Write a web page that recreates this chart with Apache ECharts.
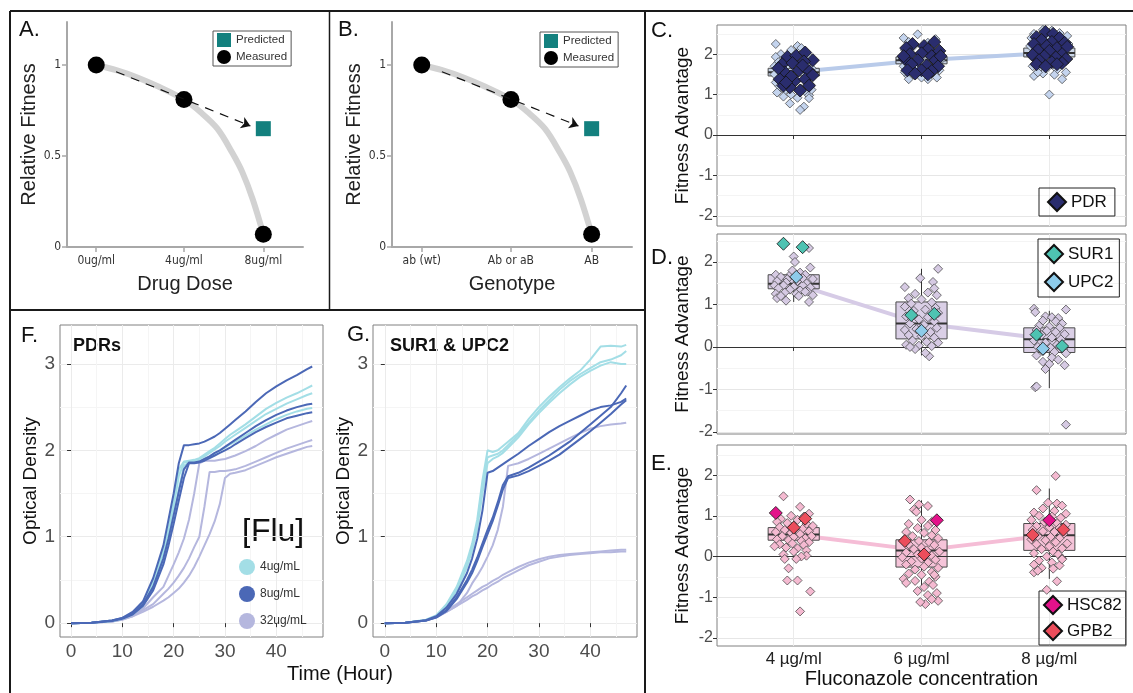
<!DOCTYPE html>
<html>
<head>
<meta charset="utf-8">
<script src="https://cdn.jsdelivr.net/npm/echarts@6/dist/echarts.min.js"></script>
<style>
html, body { margin: 0; padding: 0; background: #fff; }
#main { width: 1133px; height: 693px; }
</style>
</head>
<body>
<div id="main"></div>
<script>
// ---------- panels A / B (schematic) ----------
const doseX = [0, 4.2, 8];
const doseLabels = ['0ug/ml', '4ug/ml', '8ug/ml'];
const genoLabels = ['ab (wt)', 'Ab or aB', 'AB'];
const measured = [1.0, 0.81, 0.07];
const predicted = [[8, 0.65]];
const curveX = [0, 1, 2, 3, 4.2, 5, 5.8, 6.5, 7, 7.5, 8];
const curveY = [1, 0.97, 0.93, 0.88, 0.81, 0.74, 0.65, 0.52, 0.41, 0.26, 0.07];
const arrowAB = [[0.95, 0.963], [7.38, 0.665]];

// ---------- panels C / D / E (jittered fitness) ----------
const concLabels = ['4 µg/ml', '6 µg/ml', '8 µg/ml'];
// [jitter, value] per concentration group
const cLight = [
  [[-0.14,2.25],[0.03,2.2],[0.06,2.15],[-0.02,2.1],[-0.1,2.0],[0.08,2.05],[-0.14,1.93],[-0.06,1.9],[0.12,1.95],[-0.12,1.8],[0.0,1.85],[0.1,1.75],[-0.15,1.7],[-0.05,1.72],[0.14,1.65],[-0.12,1.6],[0.05,1.62],[-0.15,1.5],[0.02,1.5],[0.12,1.45],[-0.1,1.4],[-0.03,1.38],[0.09,1.35],[-0.14,1.3],[0.0,1.28],[0.13,1.25],[-0.11,1.2],[0.06,1.15],[-0.07,1.1],[0.1,1.05],[-0.13,1.05],[-0.02,1.0],[0.12,0.98],[-0.08,0.95],[0.03,0.92],[0.12,0.91],[-0.03,0.78],[0.08,0.7],[0.05,0.62],[0.14,1.12],[-0.06,1.55],[0.09,1.85]],
  [[-0.03,2.49],[-0.14,2.4],[0.11,2.37],[-0.1,2.3],[0.05,2.28],[-0.06,2.2],[0.13,2.15],[-0.13,2.1],[0.0,2.05],[0.1,2.0],[-0.15,1.95],[-0.04,1.92],[0.07,1.9],[0.15,1.85],[-0.12,1.8],[0.02,1.78],[0.12,1.75],[-0.14,1.7],[-0.05,1.68],[0.08,1.65],[-0.1,1.6],[0.03,1.58],[0.14,1.6],[-0.13,1.55],[-0.02,1.52],[0.1,1.5],[-0.1,1.45],[0.05,1.45],[-0.1,1.38],[0.05,1.38],[0.12,1.42],[0.0,1.42],[-0.07,1.5],[0.09,1.55]],
  [[-0.05,2.6],[0.02,2.58],[-0.12,2.5],[0.08,2.52],[0.14,2.45],[-0.14,2.4],[-0.03,2.42],[0.1,2.35],[-0.1,2.3],[0.04,2.3],[0.15,2.25],[-0.15,2.2],[-0.06,2.18],[0.08,2.15],[-0.12,2.05],[0.0,2.08],[0.12,2.02],[-0.14,1.95],[-0.04,1.92],[0.07,1.9],[0.15,1.88],[-0.1,1.8],[0.02,1.78],[0.1,1.75],[-0.13,1.7],[-0.02,1.65],[0.06,1.62],[-0.08,1.58],[-0.12,1.46],[0.04,1.49],[0.1,1.38],[-0.05,1.52],[0.0,1.0],[0.13,1.55],[-0.09,1.55]]
];
const cPDR = [
  [[-0.05,1.93],[0.02,1.96],[0.09,2.04],[0.15,1.85],[-0.09,1.75],[-0.01,1.78],[0.08,1.82],[-0.07,1.55],[0.04,1.6],[0.12,1.58],[-0.11,1.38],[0.01,1.34],[0.09,1.38],[-0.03,1.18],[0.05,1.1],[-0.08,1.22],[0.12,1.22],[-0.12,1.65],[0.07,1.72],[-0.02,1.45],[0.15,1.48],[-0.06,1.3]],
  [[-0.07,2.25],[0.02,2.2],[0.1,2.3],[-0.12,2.15],[0.05,2.12],[0.14,2.08],[-0.09,2.0],[0.0,2.02],[0.08,1.95],[-0.13,1.88],[-0.03,1.85],[0.11,1.85],[-0.08,1.75],[0.04,1.72],[0.13,1.7],[-0.11,1.6],[0.0,1.6],[0.08,1.58],[-0.05,1.52],[0.05,1.5],[-0.14,1.95],[0.15,1.95]],
  [[-0.03,2.55],[0.03,2.5],[-0.1,2.42],[0.08,2.4],[-0.06,2.35],[0.02,2.3],[0.12,2.28],[-0.12,2.25],[-0.02,2.2],[0.06,2.15],[0.14,2.18],[-0.09,2.1],[0.0,2.08],[0.1,2.0],[-0.13,1.98],[-0.04,1.95],[0.05,1.92],[0.13,1.88],[-0.08,1.85],[0.02,1.8],[0.1,1.78],[-0.1,1.75],[-0.03,1.7],[0.06,1.75]]
];
const dLight = [
  [[0.12,2.33],[0.0,2.13],[0.01,2.0],[0.13,1.87],[-0.14,1.7],[-0.1,1.65],[-0.05,1.6],[0.05,1.75],[0.09,1.7],[-0.02,1.72],[0.15,1.6],[-0.13,1.55],[-0.06,1.52],[0.03,1.55],[0.1,1.5],[-0.15,1.45],[-0.08,1.45],[0.0,1.42],[0.07,1.45],[0.13,1.4],[-0.12,1.38],[-0.03,1.35],[0.05,1.33],[0.11,1.3],[-0.14,1.25],[-0.07,1.28],[0.02,1.25],[0.09,1.3],[-0.13,1.15],[-0.06,1.09],[0.12,1.06],[0.04,1.2],[-0.1,1.2],[0.15,1.22],[-0.01,1.8],[0.07,1.62]],
  [[0.13,1.84],[-0.01,1.62],[-0.13,1.41],[0.09,1.53],[0.1,1.38],[0.05,1.28],[-0.05,1.25],[0.12,1.22],[-0.1,1.15],[0.0,1.12],[0.08,1.05],[-0.08,1.02],[-0.13,0.95],[0.11,0.92],[0.03,0.88],[-0.06,0.85],[0.13,0.8],[-0.12,0.72],[0.05,0.7],[-0.02,0.65],[0.1,0.6],[-0.09,0.55],[0.02,0.52],[0.12,0.45],[-0.13,0.4],[-0.04,0.42],[0.07,0.35],[-0.1,0.28],[0.0,0.25],[0.1,0.22],[-0.07,0.15],[0.04,0.12],[0.13,0.1],[-0.12,0.05],[-0.02,0.03],[0.08,0.02],[-0.05,-0.05],[0.06,-0.22],[0.03,-0.14],[-0.09,0.0]],
  [[-0.12,0.9],[-0.11,0.82],[0.13,0.88],[-0.03,0.72],[0.02,0.7],[0.07,0.68],[-0.05,0.62],[0.05,0.6],[0.1,0.55],[-0.08,0.5],[0.0,0.48],[0.08,0.45],[-0.1,0.4],[-0.02,0.38],[0.05,0.35],[0.12,0.3],[-0.06,0.28],[0.02,0.22],[0.09,0.18],[-0.12,0.15],[-0.03,0.1],[0.06,0.05],[-0.09,0.0],[0.01,-0.02],[0.11,-0.05],[-0.05,-0.1],[0.04,-0.12],[0.13,-0.15],[-0.1,-0.2],[0.02,-0.25],[-0.05,-0.35],[0.0,-0.4],[-0.03,-0.52],[0.12,-0.43],[-0.11,-0.95],[-0.1,-0.93],[0.13,-1.83],[0.07,-0.3]]
];
const dSUR1 = [[[-0.08,2.43],[0.07,2.35]], [[-0.08,0.75],[0.1,0.78]], [[-0.1,0.29],[0.1,0.02]]];
const dUPC2 = [[[0.02,1.65]], [[0.0,0.38]], [[-0.05,-0.04]]];
const eLight = [
  [[-0.08,1.48],[0.05,1.22],[0.12,1.05],[-0.02,1.0],[0.08,0.98],[-0.1,0.92],[0.03,0.9],[-0.13,0.85],[-0.05,0.82],[0.1,0.8],[0.15,0.75],[-0.11,0.72],[0.01,0.7],[0.07,0.68],[-0.07,0.65],[0.12,0.62],[-0.14,0.6],[-0.02,0.58],[0.05,0.55],[0.14,0.5],[-0.09,0.5],[0.0,0.48],[0.09,0.45],[-0.13,0.42],[-0.04,0.4],[0.06,0.38],[0.12,0.35],[-0.11,0.3],[-0.01,0.32],[0.08,0.28],[-0.15,0.25],[-0.06,0.22],[0.03,0.2],[0.1,0.15],[0.0,0.12],[-0.08,0.05],[0.1,0.02],[0.06,0.0],[0.02,-0.06],[-0.07,-0.06],[-0.04,-0.29],[-0.05,-0.59],[0.03,-0.59],[0.13,-0.86],[0.05,-1.35]],
  [[-0.09,1.4],[-0.02,1.28],[0.05,1.24],[-0.06,1.15],[-0.04,1.1],[0.0,0.9],[0.08,0.85],[-0.1,0.8],[0.05,0.75],[-0.03,0.7],[0.11,0.65],[-0.12,0.6],[0.02,0.58],[0.08,0.52],[-0.07,0.5],[0.13,0.45],[-0.14,0.4],[-0.02,0.38],[0.06,0.35],[-0.1,0.3],[0.1,0.28],[0.0,0.22],[-0.06,0.18],[0.04,0.15],[0.14,0.12],[-0.12,0.1],[-0.03,0.05],[0.08,0.02],[-0.15,-0.02],[0.0,-0.05],[0.11,-0.08],[-0.08,-0.12],[0.05,-0.15],[-0.12,-0.2],[0.02,-0.25],[0.13,-0.28],[-0.05,-0.32],[0.08,-0.38],[-0.1,-0.42],[0.0,-0.45],[0.11,-0.5],[-0.14,-0.55],[-0.05,-0.6],[0.06,-0.62],[-0.12,-0.65],[0.09,-0.7],[0.02,-0.75],[-0.03,-0.85],[0.12,-0.9],[0.05,-0.95],[0.13,-1.09],[0.03,-1.17],[0.08,-1.05],[-0.01,-1.12],[0.1,-0.45]],
  [[0.05,1.98],[-0.1,1.63],[0.06,1.3],[-0.01,1.32],[0.1,1.25],[-0.05,1.18],[0.04,1.12],[-0.12,1.08],[0.13,1.05],[-0.08,1.0],[0.02,0.98],[0.09,0.95],[-0.14,0.9],[-0.04,0.85],[0.06,0.82],[0.13,0.78],[-0.1,0.75],[0.0,0.72],[0.08,0.7],[-0.13,0.65],[-0.05,0.62],[0.04,0.6],[0.11,0.55],[-0.09,0.5],[0.01,0.48],[0.08,0.45],[-0.14,0.42],[-0.03,0.4],[0.05,0.35],[0.14,0.32],[-0.1,0.3],[0.0,0.25],[0.1,0.2],[-0.06,0.18],[0.03,0.12],[-0.12,0.08],[0.07,0.05],[-0.02,0.0],[0.1,-0.05],[-0.08,-0.1],[0.02,-0.15],[-0.12,-0.2],[0.08,-0.22],[-0.06,-0.28],[-0.12,-0.39],[0.06,-0.61],[-0.02,-0.82],[0.1,-0.07],[0.03,-0.3],[-0.09,-0.35]]
];
const eHSC82 = [[[-0.14,1.07]], [[0.12,0.89]], [[0.0,0.89]]];
const eGPB2 = [[[0.0,0.71],[0.09,0.93]], [[-0.13,0.38],[0.02,0.05]], [[-0.13,0.53],[0.11,0.66]]];
// box stats: [lower whisker, Q1, median, Q3, upper whisker]
const boxC = [[1.46,1.46,1.55,1.65,1.65],[1.76,1.76,1.85,1.93,1.93],[1.93,1.93,2.03,2.15,2.15]];
const boxD = [[1.06,1.37,1.49,1.7,1.7],[-0.2,0.19,0.55,1.06,1.84],[-0.97,-0.13,0.18,0.45,0.85]];
const boxE = [[0.4,0.4,0.54,0.71,0.71],[-0.76,-0.26,0.15,0.41,1.38],[-0.55,0.15,0.52,0.81,1.67]];

// ---------- panels F / G (growth curves) ----------
const timeF = [0,4,8,10,12,14,16,18,19,20,21,22,23,24,25,26,27,28,29,30,31,32,34,36,38,40,42,44,46,47];
const pdr4 = [
  [0,.005,.03,.055,.12,.24,.48,.85,1.1,1.4,1.78,1.87,1.88,1.89,1.91,1.95,1.99,2.03,2.08,2.13,2.18,2.22,2.3,2.39,2.48,2.55,2.61,2.66,2.72,2.75],
  [0,.005,.025,.05,.11,.22,.44,.8,1.05,1.35,1.7,1.86,1.87,1.88,1.9,1.93,1.97,2.01,2.05,2.1,2.14,2.18,2.26,2.34,2.42,2.48,2.54,2.59,2.64,2.66],
  [0,.005,.025,.05,.1,.2,.4,.72,.95,1.22,1.55,1.82,1.86,1.87,1.88,1.9,1.93,1.96,2.0,2.03,2.07,2.1,2.17,2.24,2.3,2.36,2.41,2.45,2.48,2.49]
];
const pdr8 = [
  [0,.005,.03,.06,.13,.25,.52,.9,1.2,1.5,1.85,2.06,2.06,2.07,2.08,2.1,2.13,2.16,2.2,2.25,2.3,2.35,2.45,2.56,2.66,2.74,2.81,2.87,2.94,2.97],
  [0,.005,.03,.06,.11,.22,.42,.75,.98,1.25,1.52,1.78,1.86,1.86,1.87,1.9,1.93,1.97,2.0,2.04,2.08,2.12,2.2,2.28,2.35,2.41,2.46,2.5,2.53,2.54],
  [0,.005,.025,.05,.1,.2,.38,.68,.9,1.15,1.42,1.68,1.85,1.85,1.86,1.88,1.91,1.94,1.97,2.0,2.03,2.07,2.14,2.21,2.27,2.32,2.37,2.4,2.43,2.44]
];
const pdr32 = [
  [0,.005,.02,.045,.09,.17,.3,.42,.55,.68,.82,.98,1.2,1.5,1.85,1.88,1.88,1.88,1.89,1.9,1.92,1.94,1.99,2.05,2.12,2.18,2.24,2.28,2.32,2.34],
  [0,.005,.02,.04,.08,.15,.22,.34,.4,.47,.55,.64,.75,.88,1.0,1.35,1.75,1.75,1.76,1.76,1.77,1.78,1.82,1.87,1.92,1.97,2.02,2.06,2.1,2.12],
  [0,.005,.02,.045,.08,.13,.19,.26,.3,.35,.4,.47,.55,.65,.77,.9,1.03,1.18,1.38,1.68,1.73,1.74,1.77,1.82,1.87,1.92,1.96,2.0,2.04,2.05]
];
const timeG = [0,4,8,10,12,14,16,17,18,19,20,21,22,23,24,26,28,30,32,34,36,38,40,42,44,46,47];
const sur4 = [
  [0,.005,.04,.09,.22,.42,.72,.92,1.2,1.65,2.0,1.98,2.0,2.05,2.1,2.2,2.36,2.5,2.62,2.73,2.83,2.92,3.05,3.2,3.21,3.2,3.22],
  [0,.005,.035,.085,.2,.4,.68,.88,1.15,1.58,1.92,1.94,1.96,2.0,2.06,2.18,2.32,2.46,2.58,2.7,2.8,2.88,2.95,3.02,3.05,3.1,3.15],
  [0,.005,.035,.08,.19,.38,.65,.84,1.1,1.5,1.85,1.9,1.93,1.97,2.03,2.15,2.3,2.43,2.55,2.66,2.76,2.85,2.92,2.98,3.02,3.0,3.0]
];
const sur8 = [
  [0,.005,.035,.08,.18,.34,.58,.75,.98,1.3,1.74,1.76,1.8,1.84,1.88,1.96,2.05,2.13,2.21,2.28,2.34,2.4,2.46,2.5,2.52,2.56,2.6],
  [0,.005,.03,.07,.15,.3,.5,.62,.76,.92,1.08,1.22,1.4,1.6,1.7,1.74,1.8,1.87,1.94,2.02,2.1,2.2,2.3,2.4,2.5,2.66,2.75],
  [0,.005,.03,.065,.14,.28,.47,.58,.72,.88,1.03,1.18,1.36,1.55,1.68,1.71,1.76,1.82,1.88,1.95,2.04,2.13,2.22,2.32,2.42,2.53,2.58]
];
const sur32 = [
  [0,.005,.03,.065,.13,.2,.35,.46,.55,.65,.77,.9,1.08,1.35,1.82,1.85,1.9,1.96,2.02,2.08,2.14,2.2,2.25,2.28,2.3,2.31,2.32],
  [0,.005,.035,.075,.14,.22,.3,.34,.38,.42,.45,.49,.52,.56,.59,.65,.7,.74,.77,.79,.8,.81,.82,.83,.84,.85,.85],
  [0,.005,.03,.07,.13,.2,.27,.31,.34,.38,.41,.45,.48,.52,.55,.61,.67,.71,.75,.77,.79,.8,.81,.82,.82,.83,.83]
];
const fluNames = ['4ug/mL', '8ug/mL', '32ug/mL'];
const fluColors = ['#a3dee6', '#4b68b6', '#b5b7de'];

// ---------- helpers ----------
const SANS = '"Liberation Sans", Arial, sans-serif';
const NARROW = '"Liberation Sans Narrow", "DejaVu Sans Condensed", sans-serif';

function jitter(groups) {
    const out = [];
    groups.forEach((g, i) => g.forEach(p => out.push([i + 1 + p[0], p[1]])));
    return out;
}
function nearest(arr, v) {
    let best = 0;
    arr.forEach((a, i) => { if (Math.abs(a - v) < Math.abs(arr[best] - v)) best = i; });
    return best;
}
function renderBox(params, api) {
    const x = api.value(0);
    const lo = api.coord([x, api.value(1)]);
    const q1 = api.coord([x, api.value(2)]);
    const md = api.coord([x, api.value(3)]);
    const q3 = api.coord([x, api.value(4)]);
    const hi = api.coord([x, api.value(5)]);
    const w = api.size([0.4, 0])[0];
    return {
        type: 'group',
        children: [
            {type: 'line', shape: {x1: lo[0], y1: lo[1], x2: q1[0], y2: q1[1]}, style: {stroke: '#333', lineWidth: 1}},
            {type: 'line', shape: {x1: q3[0], y1: q3[1], x2: hi[0], y2: hi[1]}, style: {stroke: '#333', lineWidth: 1}},
            {type: 'rect', shape: {x: q3[0] - w / 2, y: q3[1], width: w, height: q1[1] - q3[1]},
                style: {fill: api.visual('color'), stroke: '#4a4a4a', lineWidth: 1}},
            {type: 'line', shape: {x1: md[0] - w / 2, y1: md[1], x2: md[0] + w / 2, y2: md[1]}, style: {stroke: '#333', lineWidth: 2}}
        ]
    };
}

const grids = [
    {left: 67, top: 22, width: 236, height: 225},
    {left: 392, top: 22, width: 240, height: 225},
    {left: 717, top: 25, width: 409, height: 201, show: true, borderColor: '#808080', borderWidth: 1},
    {left: 717, top: 234, width: 409, height: 200, show: true, borderColor: '#808080', borderWidth: 1},
    {left: 717, top: 445, width: 409, height: 201, show: true, borderColor: '#808080', borderWidth: 1},
    {left: 60, top: 325, width: 263, height: 312, show: true, borderColor: '#808080', borderWidth: 1},
    {left: 373, top: 325, width: 264, height: 312, show: true, borderColor: '#808080', borderWidth: 1}
];
grids.forEach(g => { g.outerBoundsMode = 'none'; g.containLabel = false; });

const xAxes = [];
const yAxes = [];

// schematic axes
function schematicAxes(gi, labels, xname, ygap) {
    xAxes.push({
        type: 'value', gridIndex: gi, min: -1.4, max: 9.9,
        axisLine: {onZero: false, lineStyle: {color: '#a8a8a8', width: 2}},
        axisTick: {length: 5, customValues: doseX, lineStyle: {color: '#a8a8a8', width: 1.5}},
        axisLabel: {customValues: doseX, formatter: v => labels[nearest(doseX, v)], fontSize: 12, color: '#333', fontFamily: NARROW, margin: 8},
        splitLine: {show: false},
        name: xname, nameLocation: 'middle', nameGap: 27,
        nameTextStyle: {fontSize: 20, color: '#222', fontFamily: SANS}
    });
    yAxes.push({
        type: 'value', gridIndex: gi, min: 0, max: 1.236,
        axisLine: {show: true, onZero: false, lineStyle: {color: '#a8a8a8', width: 2}},
        axisTick: {show: true, length: 5, customValues: [0, 0.5, 1], lineStyle: {color: '#a8a8a8', width: 1.5}},
        axisLabel: {customValues: [0, 0.5, 1], fontSize: 12, color: '#333', fontFamily: NARROW, margin: 6},
        splitLine: {show: false},
        name: 'Relative Fitness', nameLocation: 'middle', nameGap: ygap,
        nameTextStyle: {fontSize: 20, color: '#222', fontFamily: SANS}
    });
}
schematicAxes(0, doseLabels, 'Drug Dose', 23);
schematicAxes(1, genoLabels, 'Genotype', 26);

// fitness panels
const fitRanges = [[-2.25, 2.72], [-2.05, 2.66], [-2.2, 2.74]];
fitRanges.forEach((r, k) => {
    const gi = 2 + k;
    const last = k === 2;
    xAxes.push({
        type: 'value', gridIndex: gi, min: 0.4, max: 3.6,
        axisLine: {show: false},
        axisTick: {show: true, length: 4, customValues: [1, 2, 3], lineStyle: {color: '#333'}},
        axisLabel: {show: last, customValues: [1, 2, 3], formatter: v => concLabels[Math.round(v) - 1], fontSize: 17, color: '#222', fontFamily: SANS, margin: 5},
        splitLine: {show: true, lineStyle: {color: '#ebebeb', width: 1}},
        name: last ? 'Fluconazole concentration' : '', nameLocation: 'middle', nameGap: 23,
        nameTextStyle: {fontSize: 20, color: '#111', fontFamily: SANS}
    });
    yAxes.push({
        type: 'value', gridIndex: gi, min: r[0], max: r[1],
        axisLine: {show: false},
        axisTick: {show: true, length: 4, customValues: [-2, -1, 0, 1, 2], lineStyle: {color: '#333'}},
        axisLabel: {customValues: [-2, -1, 0, 1, 2], fontSize: 16, color: '#4d4d4d', fontFamily: SANS, margin: 4},
        splitLine: {show: true, lineStyle: {color: '#e6e6e6', width: 1}},
        name: 'Fitness Advantage', nameLocation: 'middle', nameGap: 25,
        nameTextStyle: {fontSize: 19, color: '#111', fontFamily: SANS}
    });
    yAxes.push({
        type: 'value', gridIndex: gi, min: r[0], max: r[1],
        axisLine: {show: false}, axisLabel: {show: false},
        axisTick: {show: false, customValues: [-1.5, -0.5, 0.5, 1.5, 2.5]},
        splitLine: {show: true, lineStyle: {color: '#f4f4f4', width: 1}}
    });
});

// growth panels
[[5, -2.15, 20], [6, -2.3, 19]].forEach(([gi, xmin, ygap]) => {
    xAxes.push({
        type: 'value', gridIndex: gi, min: xmin, max: 49.1,
        axisLine: {show: false},
        axisTick: {show: true, length: 4, customValues: [0, 10, 20, 30, 40], lineStyle: {color: '#333'}},
        axisLabel: {customValues: [0, 10, 20, 30, 40], fontSize: 19, color: '#4d4d4d', fontFamily: SANS, margin: 5},
        splitLine: {show: true, lineStyle: {color: '#ebebeb', width: 1}}
    });
    xAxes.push({
        type: 'value', gridIndex: gi, min: xmin, max: 49.1,
        axisLine: {show: false}, axisLabel: {show: false},
        axisTick: {show: false, customValues: [5, 15, 25, 35, 45]},
        splitLine: {show: true, lineStyle: {color: '#f5f5f5', width: 1}}
    });
    yAxes.push({
        type: 'value', gridIndex: gi, min: -0.16, max: 3.45,
        axisLine: {show: false},
        axisTick: {show: true, length: 4, customValues: [0, 1, 2, 3], lineStyle: {color: '#333'}},
        axisLabel: {customValues: [0, 1, 2, 3], fontSize: 19, color: '#4d4d4d', fontFamily: SANS, margin: 5},
        splitLine: {show: true, lineStyle: {color: '#ebebeb', width: 1}},
        name: 'Optical Density', nameLocation: 'middle', nameGap: ygap,
        nameTextStyle: {fontSize: 19, color: '#111', fontFamily: SANS}
    });
    yAxes.push({
        type: 'value', gridIndex: gi, min: -0.16, max: 3.45,
        axisLine: {show: false}, axisLabel: {show: false},
        axisTick: {show: false, customValues: [0.5, 1.5, 2.5]},
        splitLine: {show: true, lineStyle: {color: '#f5f5f5', width: 1}}
    });
});
// axis index map: x -> A0 B1 C2 D3 E4 F5(+6 minor) G7(+8 minor)
// y -> A0 B1 C2(3) D4(5) E6(7) F8(9) G10(11)

const series = [];

// A / B series
[[0, 0], [1, 1]].forEach(([xi, yi]) => {
    series.push({
        type: 'line', xAxisIndex: xi, yAxisIndex: yi, smooth: 0.35, showSymbol: false,
        data: curveX.map((x, i) => [x, curveY[i]]),
        lineStyle: {color: '#d2d2d2', width: 6}, z: 1, silent: true,
        markLine: {
            silent: true, symbol: ['none', 'arrow'], symbolSize: 9,
            label: {show: false},
            lineStyle: {color: '#111', width: 1.2, type: [9, 7]},
            data: [[{coord: arrowAB[0]}, {coord: arrowAB[1]}]]
        }
    });
    series.push({
        name: 'Measured', type: 'scatter', xAxisIndex: xi, yAxisIndex: yi,
        symbol: 'circle', symbolSize: 17, itemStyle: {color: '#000', opacity: 1}, z: 3,
        data: doseX.map((x, i) => [x, measured[i]])
    });
    series.push({
        name: 'Predicted', type: 'scatter', xAxisIndex: xi, yAxisIndex: yi,
        symbol: 'rect', symbolSize: 15, itemStyle: {color: '#13807e', opacity: 1}, z: 3,
        data: predicted
    });
});

// C / D / E series
const fitPanels = [
    {xi: 2, yi: 2, box: boxC, boxFill: '#c9d5e8', link: '#b9cbea', light: cLight, lightColor: '#c4d4ee',
        marks: [{name: 'PDR', pts: cPDR, color: '#2a2d6e'}]},
    {xi: 3, yi: 4, box: boxD, boxFill: '#dacfe6', link: '#d6cbe6', light: dLight, lightColor: '#d6cae3',
        marks: [{name: 'SUR1', pts: dSUR1, color: '#4ec3b2'}, {name: 'UPC2', pts: dUPC2, color: '#8dcbea'}]},
    {xi: 4, yi: 6, box: boxE, boxFill: '#f5c4d9', link: '#f5bdd6', light: eLight, lightColor: '#f5bad1',
        marks: [{name: 'HSC82', pts: eHSC82, color: '#e3128a'}, {name: 'GPB2', pts: eGPB2, color: '#ec4d5b'}]}
];
fitPanels.forEach(p => {
    series.push({
        type: 'line', xAxisIndex: p.xi, yAxisIndex: p.yi, showSymbol: false, silent: true, z: 1,
        data: p.box.map((b, i) => [i + 1, b[2]]),
        lineStyle: {color: p.link, width: 4}
    });
    series.push({
        type: 'custom', xAxisIndex: p.xi, yAxisIndex: p.yi, renderItem: renderBox, z: 2, silent: true,
        itemStyle: {color: p.boxFill},
        encode: {x: 0, y: [1, 2, 3, 4, 5]},
        data: p.box.map((b, i) => [i + 1].concat(b)),
        markLine: {
            silent: true, symbol: ['none', 'none'], label: {show: false}, z: 3,
            lineStyle: {color: '#333', width: 1, type: 'solid'},
            data: [{yAxis: 0}]
        }
    });
    series.push({
        type: 'scatter', xAxisIndex: p.xi, yAxisIndex: p.yi, symbol: 'diamond', symbolSize: 9, z: 4,
        itemStyle: {color: p.lightColor, borderColor: '#3a3a3a', borderWidth: 0.7, opacity: 1},
        data: jitter(p.light)
    });
    p.marks.forEach(m => {
        series.push({
            name: m.name, type: 'scatter', xAxisIndex: p.xi, yAxisIndex: p.yi, symbol: 'diamond', symbolSize: 13, z: 5,
            itemStyle: {color: m.color, borderColor: '#111', borderWidth: 0.8, opacity: 1},
            data: jitter(m.pts)
        });
    });
});

// F / G series
[[5, 8, timeF, [pdr4, pdr8, pdr32]], [7, 10, timeG, [sur4, sur8, sur32]]].forEach(([xi, yi, t, sets]) => {
    [2, 0, 1].forEach(k => {
        sets[k].forEach(curve => {
            series.push({
                name: fluNames[k], type: 'line', xAxisIndex: xi, yAxisIndex: yi, showSymbol: false, silent: true,
                data: t.map((h, i) => [h, curve[i]]),
                itemStyle: {color: fluColors[k]},
                lineStyle: {color: fluColors[k], width: 2}
            });
        });
    });
});

const boxLegend = {
    orient: 'vertical', selectedMode: false, borderColor: '#222', borderWidth: 1,
    itemWidth: 18, itemHeight: 18, textStyle: {fontSize: 17, color: '#111', fontFamily: SANS}
};
const legends = [
    {data: ['Predicted', 'Measured'], left: 213, top: 31, orient: 'vertical', selectedMode: false,
        borderColor: '#555', borderWidth: 1, padding: [2, 4], itemGap: 3, itemWidth: 14, itemHeight: 14,
        textStyle: {fontSize: 11.5, color: '#333', fontFamily: SANS}},
    {data: ['Predicted', 'Measured'], left: 540, top: 32, orient: 'vertical', selectedMode: false,
        borderColor: '#555', borderWidth: 1, padding: [2, 4], itemGap: 3, itemWidth: 14, itemHeight: 14,
        textStyle: {fontSize: 11.5, color: '#333', fontFamily: SANS}},
    Object.assign({data: ['PDR'], left: 1039, top: 188, padding: [4, 8]}, boxLegend),
    Object.assign({data: ['SUR1', 'UPC2'], left: 1038, top: 239, padding: [5, 6], itemGap: 8}, boxLegend),
    Object.assign({data: ['HSC82', 'GPB2'], left: 1039, top: 591, padding: [4, 4], itemGap: 6}, boxLegend),
    {data: fluNames.map(n => ({name: n, icon: 'circle'})), left: 234, top: 554, orient: 'vertical', selectedMode: false,
        itemWidth: 16, itemHeight: 16, itemGap: 11, textStyle: {fontSize: 12, color: '#333', fontFamily: SANS}}
];

function txt(left, top, text, font) {
    return {type: 'text', left: left, top: top, silent: true, style: {text: text, font: font, fill: '#111'}};
}
function rule(x1, y1, x2, y2, w) {
    return {type: 'line', silent: true, shape: {x1: x1, y1: y1, x2: x2, y2: y2}, style: {stroke: '#1a1a1a', lineWidth: w}};
}
const letterFont = '22px "Liberation Sans", Arial, sans-serif';
const graphics = [
    rule(10, 11, 1133, 11, 2),
    rule(10, 11, 10, 693, 2),
    rule(329.5, 11, 329.5, 310, 1.5),
    rule(10, 310, 645, 310, 2),
    rule(645, 11, 645, 693, 2),
    txt(19, 19, 'A.', letterFont),
    txt(338, 19, 'B.', letterFont),
    txt(651, 20, 'C.', letterFont),
    txt(651, 247, 'D.', letterFont),
    txt(651, 453, 'E.', letterFont),
    txt(21, 325, 'F.', letterFont),
    txt(347, 324, 'G.', letterFont),
    txt(73, 337, 'PDRs', 'bold 18px "Liberation Sans", Arial, sans-serif'),
    txt(390, 337, 'SUR1 & UPC2', 'bold 18px "Liberation Sans", Arial, sans-serif'),
    txt(242, 516, '[Flu]', '32px "Liberation Sans", Arial, sans-serif'),
    txt(287, 664, 'Time (Hour)', '20px "Liberation Sans", Arial, sans-serif')
];

const chart = echarts.init(document.getElementById('main'));
chart.setOption({
    animation: false,
    backgroundColor: '#fff',
    grid: grids,
    xAxis: xAxes,
    yAxis: yAxes,
    legend: legends,
    series: series,
    graphic: {elements: graphics}
});
</script>
</body>
</html>
